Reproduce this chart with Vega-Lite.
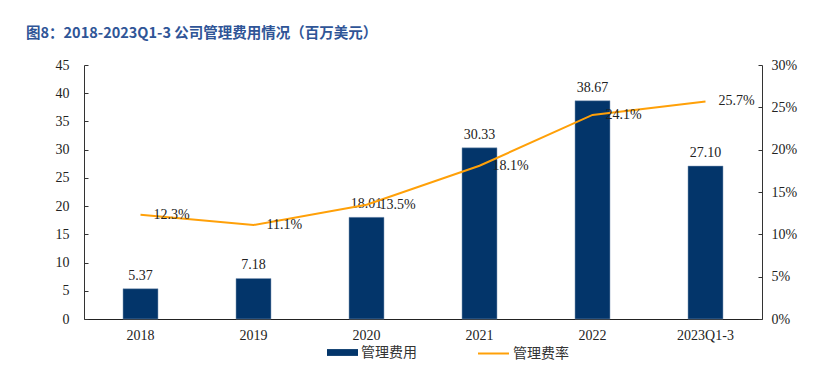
{
  "$schema": "https://vega.github.io/schema/vega-lite/v6.json",
  "width": 678,
  "height": 254,
  "autosize": {"type": "none"},
  "padding": {"left": 84, "top": 65, "right": 64, "bottom": 67},
  "background": "white",
  "title": {
    "text": "图8：2018-2023Q1-3  公司管理费用情况（百万美元）",
    "anchor": "start",
    "frame": "group",
    "dx": -58,
    "offset": 17,
    "font": "Noto Sans CJK SC",
    "fontSize": 14.5,
    "fontWeight": "bold",
    "color": "#2f5597"
  },
  "config": {
    "view": {"stroke": null},
    "axis": {
      "grid": false,
      "labelFont": "Liberation Serif, Times New Roman, DejaVu Serif, serif",
      "labelFontSize": 14,
      "labelColor": "#222222",
      "labelOverlap": false,
      "domainColor": "#333333",
      "tickColor": "#333333",
      "title": null
    }
  },
  "data": {
    "values": [
      {"year": "2018", "cost": 5.37, "rate": 0.123},
      {"year": "2019", "cost": 7.18, "rate": 0.111},
      {"year": "2020", "cost": 18.01, "rate": 0.135},
      {"year": "2021", "cost": 30.33, "rate": 0.181},
      {"year": "2022", "cost": 38.67, "rate": 0.241},
      {"year": "2023Q1-3", "cost": 27.10, "rate": 0.257}
    ]
  },
  "encoding": {
    "x": {
      "field": "year",
      "type": "ordinal",
      "sort": null,
      "scale": {"paddingInner": 0.69, "paddingOuter": 0.345},
      "axis": {"labelAngle": 0, "ticks": false, "labelPadding": 9, "domainColor": "#222222"}
    }
  },
  "layer": [
    {
      "encoding": {
        "y": {
          "field": "cost",
          "type": "quantitative",
          "scale": {"domain": [0, 45]},
          "axis": {"values": [0, 5, 10, 15, 20, 25, 30, 35, 40, 45], "tickSize": -4, "labelPadding": 19, "labelOverlap": false, "labelFlush": false, "labelBound": false}
        }
      },
      "layer": [
        {
          "mark": {"type": "bar", "stroke": "#8aa0bd", "strokeWidth": 0.5},
          "encoding": {
            "fill": {
              "datum": "管理费用",
              "scale": {"domain": ["管理费用"], "range": ["#03356a"]},
              "legend": {
                "orient": "none",
                "legendX": 243,
                "legendY": 272,
                "title": null,
                "padding": 0,
                "symbolType": "M-1,-0.22H1V0.22H-1Z",
                "symbolSize": 961,
                "symbolStrokeWidth": 0,
                "labelFont": "Noto Sans CJK SC",
                "labelFontSize": 14,
                "labelColor": "#333333",
                "labelOffset": 3
              }
            }
          }
        },
        {
          "mark": {"type": "text", "baseline": "bottom", "dy": -6, "font": "Liberation Serif, Times New Roman, DejaVu Serif, serif", "fontSize": 14, "color": "#222222"},
          "encoding": {
            "text": {"field": "cost", "type": "quantitative", "format": ".2f"}
          }
        }
      ]
    },
    {
      "encoding": {
        "y": {
          "field": "rate",
          "type": "quantitative",
          "scale": {"domain": [0, 0.3]},
          "axis": {"orient": "right", "format": ".0%", "values": [0, 0.05, 0.1, 0.15, 0.2, 0.25, 0.3], "tickSize": -4, "labelPadding": 13, "labelOverlap": false, "labelFlush": false}
        }
      },
      "layer": [
        {
          "mark": {"type": "line", "strokeWidth": 2},
          "encoding": {
            "stroke": {
              "datum": "管理费率",
              "scale": {"domain": ["管理费率"], "range": ["#ffa008"]},
              "legend": {
                "orient": "none",
                "legendX": 393,
                "legendY": 272,
                "title": null,
                "padding": 0,
                "symbolType": "stroke",
                "symbolSize": 961,
                "symbolStrokeWidth": 2,
                "labelFont": "Noto Sans CJK SC",
                "labelFontSize": 14,
                "labelColor": "#333333",
                "labelOffset": 3
              }
            }
          }
        },
        {
          "mark": {"type": "text", "align": "left", "baseline": "middle", "dx": 13, "dy": 0, "font": "Liberation Serif, Times New Roman, DejaVu Serif, serif", "fontSize": 14, "color": "#222222"},
          "encoding": {
            "text": {"field": "rate", "type": "quantitative", "format": ".1%"}
          }
        }
      ]
    }
  ],
  "resolve": {"scale": {"y": "independent"}}
}
